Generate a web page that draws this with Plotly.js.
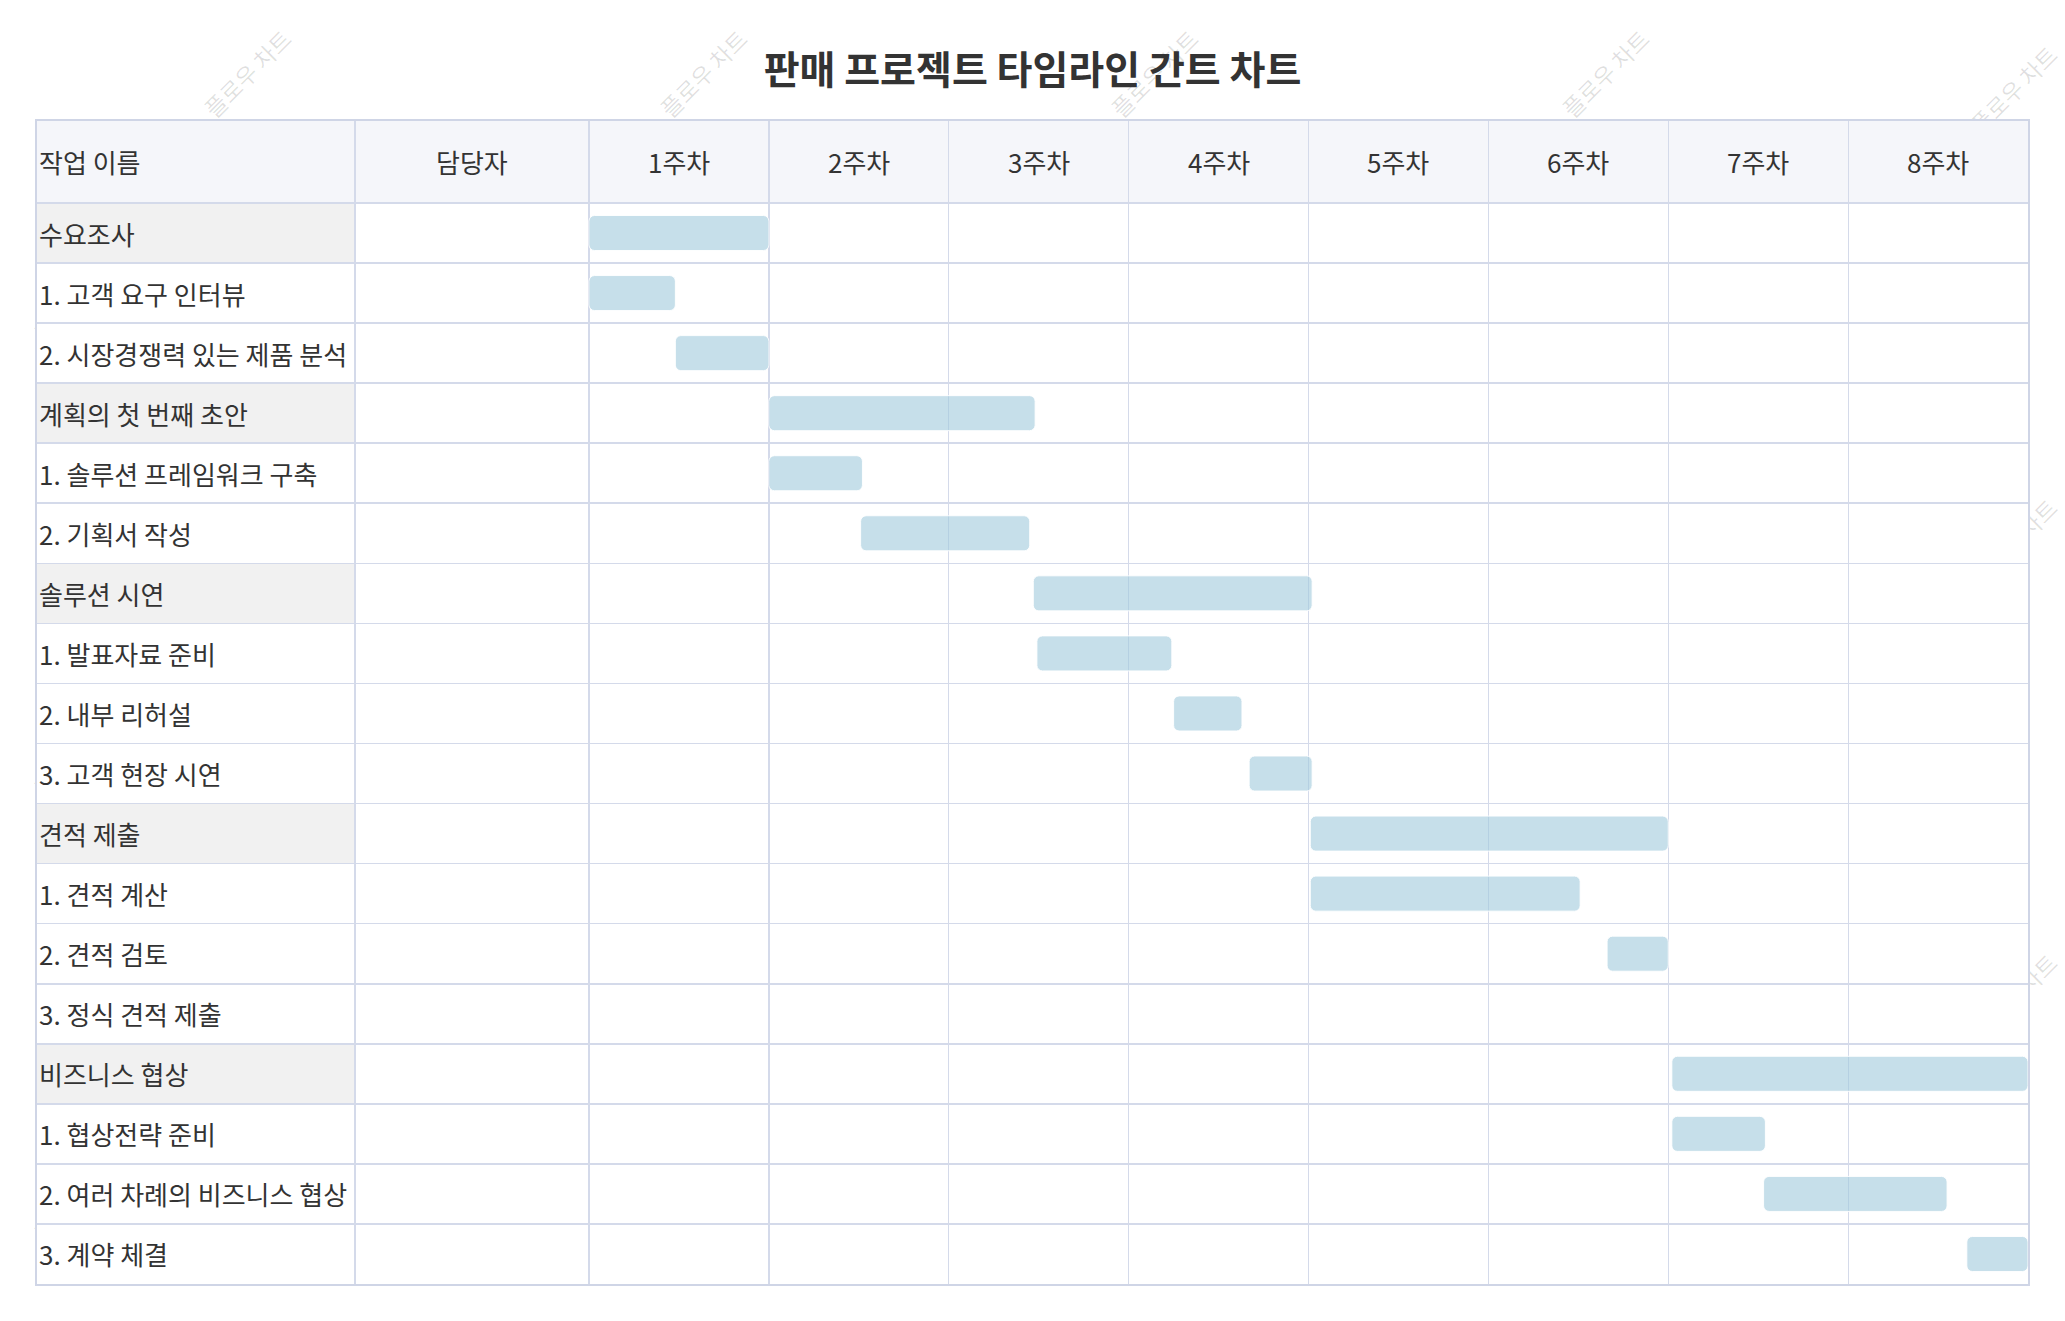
<!DOCTYPE html>
<html>
<head>
<meta charset="utf-8">
<script src="https://cdn.plot.ly/plotly-3.0.1.min.js"></script>
<style>
html, body { margin: 0; padding: 0; background: #ffffff; }
#chart { width: 2065px; height: 1321px; }
</style>
</head>
<body>
<div id="chart"></div>
<script>
// ---------------- DATA ----------------
const chartTitle = '판매 프로젝트 타임라인 간트 차트';
const headerTask = '작업 이름';
const headerOwner = '담당자';
const weekLabels = ['1주차', '2주차', '3주차', '4주차', '5주차', '6주차', '7주차', '8주차'];
const tasks = [
  '수요조사',
  '1. 고객 요구 인터뷰',
  '2. 시장경쟁력 있는 제품 분석',
  '계획의 첫 번째 초안',
  '1. 솔루션 프레임워크 구축',
  '2. 기획서 작성',
  '솔루션 시연',
  '1. 발표자료 준비',
  '2. 내부 리허설',
  '3. 고객 현장 시연',
  '견적 제출',
  '1. 견적 계산',
  '2. 견적 검토',
  '3. 정식 견적 제출',
  '비즈니스 협상',
  '1. 협상전략 준비',
  '2. 여러 차례의 비즈니스 협상',
  '3. 계약 체결'
];
const isGroup = [1, 0, 0, 1, 0, 0, 1, 0, 0, 0, 1, 0, 0, 0, 1, 0, 0, 0];
const owners = ['', '', '', '', '', '', '', '', '', '', '', '', '', '', '', '', '', ''];
// start / end in weeks (0 = start of week 1)
const startWeek = [0.00, 0.00, 0.48, 1.00, 1.00, 1.51, 2.47, 2.49, 3.25, 3.67, 4.01, 4.01, 5.66, null, 6.02, 6.02, 6.53, 7.66];
const endWeek   = [1.00, 0.48, 1.00, 2.48, 1.52, 2.45, 4.02, 3.24, 3.63, 4.02, 6.00, 5.51, 6.00, null, 8.00, 6.54, 7.55, 8.00];
const watermarkText = '플로우 차트';

// ---------------- LAYOUT CONSTANTS ----------------
const FONT = '"Noto Sans CJK KR", "Noto Sans", sans-serif';
const TEXT_COLOR = '#333333';
const GRID = '#d4daea';
const BORDER = '#cfd5e6';
const BAR_COLOR = 'rgba(160,202,220,0.6)';
const LABEL_SIZE = 26;
const X_MIN = -3.069;     // left edge of table (weeks units)
const X_DIV = -1.301;     // task | owner divider
const X_OWNER = -0.650;   // owner column centre
const HDR = 1.365;        // header height in row units
const nRows = tasks.length;

// watermark centres in page pixels
const wmPix = [
  [250, 76], [706, 76], [1157, 76], [1608, 76], [2016, 92],
  [80, 300], [530, 300], [980, 300], [1430, 300], [1880, 300],
  [250, 530], [706, 530], [1157, 530], [1608, 530], [2016, 545],
  [80, 755], [530, 755], [980, 755], [1430, 755], [1880, 755],
  [250, 985], [706, 985], [1157, 985], [1608, 985], [2016, 1000],
  [80, 1200], [530, 1205], [980, 1205], [1430, 1205], [1880, 1205]
];
const ML = 37, MR = 37, MT = 121, MB = 37, W = 2065, H = 1321;
const PW = W - ML - MR, PH = H - MT - MB;

const shapes = [];
wmPix.forEach(([px, py]) => {
  const xp = (px - ML) / PW, yp = (H - MB - py) / PH;
  shapes.push({
    type: 'rect', xref: 'paper', yref: 'paper', layer: 'below',
    x0: xp - 0.005, x1: xp + 0.005, y0: yp - 0.005, y1: yp + 0.005,
    line: { width: 0 }, fillcolor: 'rgba(0,0,0,0)',
    label: { text: watermarkText, textangle: -45, textposition: 'middle center',
             font: { family: FONT, size: 23, color: 'rgba(0,0,0,0.12)' } }
  });
});
// white table background covering watermarks
shapes.push({ type: 'rect', xref: 'paper', yref: 'paper', layer: 'below',
  x0: 0, x1: 1, y0: 0, y1: 1, line: { width: 0 }, fillcolor: '#ffffff' });
// header background
shapes.push({ type: 'rect', xref: 'x', yref: 'y', layer: 'below',
  x0: X_MIN, x1: 8, y0: -HDR, y1: 0, line: { width: 0 }, fillcolor: '#f5f6fa' });
// group row task-cell backgrounds
tasks.forEach((t, i) => {
  if (isGroup[i]) {
    shapes.push({ type: 'rect', xref: 'x', yref: 'y', layer: 'below',
      x0: X_MIN, x1: X_DIV, y0: i, y1: i + 1, line: { width: 0 }, fillcolor: '#f1f1f1' });
  }
});

// annotations: header + task labels + owners
const annotations = [];
annotations.push({ x: X_MIN, y: -HDR / 2, xref: 'x', yref: 'y', text: headerTask,
  xanchor: 'left', yanchor: 'middle', xshift: 0, showarrow: false,
  font: { family: FONT, size: LABEL_SIZE, color: TEXT_COLOR } });
annotations.push({ x: X_OWNER, y: -HDR / 2, xref: 'x', yref: 'y', text: headerOwner,
  xanchor: 'center', yanchor: 'middle', showarrow: false,
  font: { family: FONT, size: LABEL_SIZE, color: TEXT_COLOR } });
weekLabels.forEach((w, k) => {
  annotations.push({ x: k + 0.5, y: -HDR / 2, xref: 'x', yref: 'y', text: w,
    xanchor: 'center', yanchor: 'middle', showarrow: false,
    font: { family: FONT, size: LABEL_SIZE, color: TEXT_COLOR } });
});
tasks.forEach((t, i) => {
  annotations.push({ x: X_MIN, y: i + 0.5, xref: 'x', yref: 'y', text: t,
    xanchor: 'left', yanchor: 'middle', xshift: 0, showarrow: false,
    font: { family: FONT, size: LABEL_SIZE, color: TEXT_COLOR } });
  if (owners[i]) {
    annotations.push({ x: X_OWNER, y: i + 0.5, xref: 'x', yref: 'y', text: owners[i],
      xanchor: 'center', yanchor: 'middle', showarrow: false,
      font: { family: FONT, size: LABEL_SIZE, color: TEXT_COLOR } });
  }
});

const barTrace = {
  type: 'bar',
  orientation: 'h',
  y: tasks.map((_, i) => i + 0.5),
  base: startWeek,
  x: startWeek.map((s, i) => (s === null ? null : endWeek[i] - s)),
  width: 0.583,
  marker: {
    color: BAR_COLOR,
    cornerradius: 6,
    line: { width: 1, color: 'rgba(255,255,255,0.9)' }
  },
  hoverinfo: 'skip',
  showlegend: false
};

const gridX = [X_DIV];
weekLabels.forEach((_, k) => gridX.push(k));
const gridY = [];
for (let i = 0; i < nRows; i++) gridY.push(i);

const layout = {
  width: W, height: H,
  margin: { l: ML, r: MR, t: MT, b: MB, pad: 0 },
  paper_bgcolor: '#ffffff',
  plot_bgcolor: 'rgba(0,0,0,0)',
  font: { family: FONT, color: TEXT_COLOR },
  title: {
    text: '<b>' + chartTitle + '</b>',
    font: { family: FONT, size: 39, color: TEXT_COLOR },
    x: 0.5, xanchor: 'center', xref: 'paper',
    y: 1 - 70 / H, yanchor: 'middle', yref: 'container'
  },
  xaxis: {
    range: [X_MIN, 8], tickvals: gridX, showticklabels: false, ticks: '',
    showgrid: true, gridcolor: GRID, gridwidth: 1.2, zeroline: false,
    showline: true, mirror: true, linecolor: BORDER, linewidth: 2, fixedrange: true
  },
  yaxis: {
    range: [nRows, -HDR], tickvals: gridY, showticklabels: false, ticks: '',
    showgrid: true, gridcolor: GRID, gridwidth: 1.6, zeroline: false,
    showline: true, mirror: true, linecolor: BORDER, linewidth: 2, fixedrange: true
  },
  shapes: shapes,
  annotations: annotations,
  showlegend: false,
  bargap: 0
};

Plotly.newPlot('chart', [barTrace], layout, { displayModeBar: false, staticPlot: true });
</script>
</body>
</html>
